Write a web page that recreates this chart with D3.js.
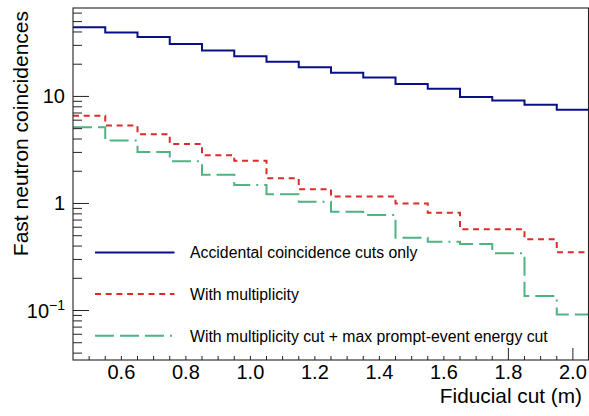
<!DOCTYPE html>
<html>
<head>
<meta charset="utf-8">
<script src="https://cdn.jsdelivr.net/npm/d3@7"></script>
<style>
  html, body { margin: 0; padding: 0; background: #fff; }
  svg { display: block; }
  text { font-family: "Liberation Sans", Arial, Helvetica, sans-serif; fill: #000; }
</style>
</head>
<body>
<svg id="chart" width="589" height="416"></svg>
<script>
// ---- data ----
const binEdges = [0.45, 0.55, 0.65, 0.75, 0.85, 0.95, 1.05, 1.15, 1.25, 1.35, 1.45, 1.55, 1.65, 1.75, 1.85, 1.95, 2.05];
const accidentalOnly = [44.2, 39.6, 35.9, 30.9, 26.9, 23.7, 21.1, 18.7, 16.6, 15.0, 13.1, 11.8, 9.87, 9.18, 8.36, 7.5];
const withMultiplicity = [6.6, 5.34, 4.43, 3.60, 2.82, 2.51, 1.72, 1.36, 1.16, 1.16, 1.0, 0.82, 0.574, 0.574, 0.463, 0.35];
const withMultEnergy = [5.16, 3.87, 3.03, 2.48, 1.86, 1.49, 1.22, 1.04, 0.838, 0.78, 0.479, 0.439, 0.418, 0.343, 0.137, 0.092];
const seriesNames = ["Accidental coincidence cuts only", "With multiplicity", "With multiplicity cut + max prompt-event energy cut"];
const xTickLabels = [0.6, 0.8, 1.0, 1.2, 1.4, 1.6, 1.8, 2.0];
const xMajorTallTicks = [1.8, 2.0];
const yMajorTicks = [0.1, 1, 10];
const xTitle = "Fiducial cut (m)";
const yTitle = "Fast neutron coincidences";

// ---- layout ----
const L = 73, R = 588.5, T = 8, B = 360;
const svg = d3.select("#chart");

const x = d3.scaleLinear().domain([0.45, 2.05]).range([L, R + 0.5]);
const y = d3.scaleLog().domain([0.0345, 67]).range([B, T]);

const styles = [
  { color: "#0a0f88", dash: null, width: 2 },
  { color: "#dd2a2a", dash: "6,4.7", width: 2 },
  { color: "#4fb383", dash: "19,6,19,6,19,6,2,6", width: 2 }
];
const allSeries = [accidentalOnly, withMultiplicity, withMultEnergy];

svg.append("clipPath").attr("id", "plotclip")
  .append("rect").attr("x", L).attr("y", T).attr("width", R - L).attr("height", B - T);

const line = d3.line()
  .x(d => x(d[0]))
  .y(d => y(d[1]))
  .curve(d3.curveStepAfter);

const g = svg.append("g").attr("clip-path", "url(#plotclip)");
allSeries.forEach((vals, i) => {
  const pts = vals.map((v, k) => [binEdges[k], v]);
  pts.push([binEdges[binEdges.length - 1], vals[vals.length - 1]]);
  g.append("path")
    .attr("d", line(pts))
    .attr("fill", "none")
    .attr("stroke", styles[i].color)
    .attr("stroke-width", styles[i].width)
    .attr("stroke-dasharray", styles[i].dash)
    .attr("stroke-linecap", "butt");
});

// ---- frame ----
svg.append("rect")
  .attr("x", L).attr("y", T).attr("width", R - L).attr("height", B - T)
  .attr("fill", "none").attr("stroke", "#222").attr("stroke-width", 1.1);

// ---- x axis ticks ----
const xMinor = d3.range(0.5, 2.0001, 0.05).map(v => +v.toFixed(2));
const xt = svg.append("g");
xMinor.forEach(v => {
  const tall = xMajorTallTicks.some(t => Math.abs(t - v) < 1e-6);
  xt.append("line")
    .attr("x1", x(v)).attr("x2", x(v))
    .attr("y1", B).attr("y2", B - (tall ? 12 : 4))
    .attr("stroke", "#222").attr("stroke-width", 1);
});
xTickLabels.forEach(v => {
  svg.append("text")
    .attr("x", x(v)).attr("y", 379)
    .attr("text-anchor", "middle")
    .attr("font-size", 20)
    .text(d3.format(".1f")(v));
});
svg.append("text")
  .attr("x", 582).attr("y", 403)
  .attr("text-anchor", "end")
  .attr("font-size", 20.8)
  .text(xTitle);

// ---- y axis ticks ----
const yt = svg.append("g");
const [ymin, ymax] = y.domain();
[0.01, 0.1, 1, 10].forEach(dec => {
  for (let m = 1; m <= 9; m++) {
    const v = dec * m;
    if (v < ymin || v > ymax) continue;
    const major = m === 1;
    yt.append("line")
      .attr("x1", L).attr("x2", L + (major ? 16 : 9))
      .attr("y1", y(v)).attr("y2", y(v))
      .attr("stroke", "#222").attr("stroke-width", 1);
  }
});
yMajorTicks.forEach(v => {
  const t = svg.append("text")
    .attr("x", 65).attr("y", y(v) + 7)
    .attr("text-anchor", "end")
    .attr("font-size", 20);
  if (v >= 1) {
    t.text(String(v));
  } else {
    const e = Math.round(Math.log10(v));
    t.append("tspan").text("10");
    t.append("tspan").attr("font-size", 14).attr("dy", -8).text("\u2212" + Math.abs(e));
  }
});
svg.append("text")
  .attr("transform", `translate(27.5, 11) rotate(-90)`)
  .attr("text-anchor", "end")
  .attr("font-size", 21)
  .text(yTitle);

// ---- legend ----
const legY = [252.5, 294, 335.8];
seriesNames.forEach((name, i) => {
  svg.append("line")
    .attr("x1", 95).attr("x2", 174.5)
    .attr("y1", legY[i]).attr("y2", legY[i])
    .attr("stroke", styles[i].color)
    .attr("stroke-width", styles[i].width)
    .attr("stroke-dasharray", styles[i].dash);
  svg.append("text")
    .attr("x", 190).attr("y", legY[i] + 5.8)
    .attr("font-size", 15.8)
    .text(name);
});
</script>
</body>
</html>
